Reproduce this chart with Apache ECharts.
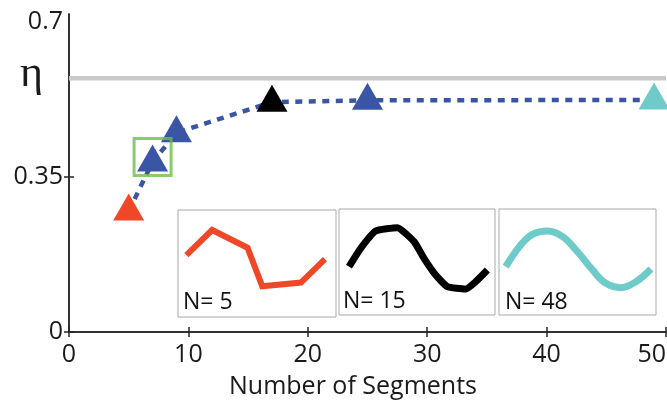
<!DOCTYPE html>
<html>
<head>
<meta charset="utf-8">
<script src="https://cdn.jsdelivr.net/npm/echarts@6/dist/echarts.min.js"></script>
<style>
html,body{margin:0;padding:0;background:#fff;}
#chart{width:667px;height:401px;}
</style>
</head>
<body>
<div id="chart"></div>
<script>
// ---- data ----
const segments = [5, 7, 9, 17, 25, 49];
const eta = [0.273, 0.384, 0.45, 0.519, 0.523, 0.524];
const markerColors = ['#ef4829', '#3a55a4', '#3a55a4', '#000000', '#3a55a4', '#6ecbc9'];
const refLevel = 0.573;
const highlightIndex = 1;
const xTicks = [0, 10, 20, 30, 40, 50];
const yTicks = [0, 0.35, 0.7];
const insetLabels = ['N= 5', 'N= 15', 'N= 48'];
const insetColors = ['#ef4829', '#000000', '#6ecbc9'];
// inset curves (local 0-100 coordinates)
const curve5x = [5.3, 21.6, 44.0, 53.3, 77.8, 93.0];
const curve5y = [57.8, 81.3, 64.7, 28.8, 32.2, 54.1];
const curve15x = [6.4, 13.9, 23.5, 37.4, 48.1, 54.5, 62.0, 69.5, 81.2, 87.6, 95.1];
const curve15y = [45.6, 62.9, 79.2, 82.4, 69.2, 53.5, 37.7, 26.7, 24.5, 31.4, 42.5];
const curve48x = [4.3, 13.8, 21.3, 30.9, 40.5, 50.0, 59.6, 68.1, 77.7, 87.2, 96.8];
const curve48y = [45.6, 66.0, 76.1, 79.2, 73.9, 59.7, 42.5, 29.9, 25.8, 31.4, 43.4];

const FONT = 'Open Sans';
const chart = echarts.init(document.getElementById('chart'), null, {renderer: 'canvas'});

const zip = (a, b) => a.map((v, i) => [v, b[i]]);
const insetBoxes = [
  {left: 178, top: 210, width: 158, height: 107},
  {left: 339, top: 209, width: 156, height: 106},
  {left: 499, top: 209, width: 157, height: 106}
];
const insetCurves = [zip(curve5x, curve5y), zip(curve15x, curve15y), zip(curve48x, curve48y)];
const insetTextPos = [[183, 302], [343, 301], [505, 302]];

const axisLineStyle = {color: '#262626', width: 1.5};
const yMax = 0.718;
const yTickValues = [0, 0.35];

const option = {
  animation: false,
  backgroundColor: '#fff',
  grid: [
    {left: 69, top: 14, width: 597, height: 318, show: false, outerBoundsMode: 'none', containLabel: false}
  ].concat(insetBoxes.map(b => ({left: b.left, top: b.top, width: b.width, height: b.height,
      outerBoundsMode: 'none', containLabel: false,
      show: true, borderColor: '#a9a9a9', borderWidth: 1, backgroundColor: '#fff', z: 1}))),
  xAxis: [
    {gridIndex: 0, type: 'value', min: 0, max: 50, interval: 10, position: 'bottom',
     axisLine: {show: true, lineStyle: axisLineStyle},
     axisTick: {show: true, inside: true, length: 5, lineStyle: axisLineStyle},
     splitLine: {show: false},
     axisLabel: {fontFamily: FONT, fontSize: 25, color: '#1a1a1a', margin: 10, alignMaxLabel: 'right',
       formatter: v => xTicks.indexOf(v) >= 0 ? String(v) : ''},
     name: 'Number of Segments', nameLocation: 'middle', nameGap: 42,
     nameTextStyle: {fontFamily: FONT, fontSize: 25, color: '#1a1a1a', padding: [0, 29, 0, 0]}},
    {gridIndex: 0, type: 'value', min: 0, max: 50, interval: 10, position: 'top',
     axisLine: {show: true, lineStyle: axisLineStyle},
     axisTick: {show: true, inside: true, length: 5, lineStyle: axisLineStyle},
     splitLine: {show: false}, axisLabel: {show: false}}
  ].concat(insetBoxes.map((b, i) => ({gridIndex: i + 1, type: 'value', min: 0, max: 100, show: false}))),
  yAxis: [
    {gridIndex: 0, type: 'value', min: 0, max: yMax, interval: 0.35, position: 'left',
     axisLine: {show: true, lineStyle: axisLineStyle},
     axisTick: {show: true, inside: true, length: 5, lineStyle: axisLineStyle, customValues: yTickValues},
     splitLine: {show: false},
     axisLabel: {fontFamily: FONT, fontSize: 25, color: '#1a1a1a', margin: 6, padding: [6, 0, 0, 0],
       formatter: v => yTicks.some(t => Math.abs(t - v) < 1e-9) ? String(v) : ''}},
    {gridIndex: 0, type: 'value', min: 0, max: yMax, interval: 0.35, position: 'right',
     axisLine: {show: true, lineStyle: axisLineStyle},
     axisTick: {show: true, inside: true, length: 5, lineStyle: axisLineStyle, customValues: yTickValues},
     splitLine: {show: false}, axisLabel: {show: false}}
  ].concat(insetBoxes.map((b, i) => ({gridIndex: i + 1, type: 'value', min: 0, max: 100, show: false}))),
  series: [
    {type: 'line', xAxisIndex: 0, yAxisIndex: 0, z: 2,
     data: [[0, refLevel], [50, refLevel]], symbol: 'none',
     lineStyle: {color: '#c8c8c8', width: 4.5}, silent: true},
    {type: 'line', xAxisIndex: 0, yAxisIndex: 0, z: 3,
     data: segments.map((s, i) => ({value: [s, eta[i]], itemStyle: {color: markerColors[i]}})),
     symbol: 'triangle', symbolSize: [31, 27], symbolOffset: [0, -4], showAllSymbol: true,
     lineStyle: {color: '#3a55a4', width: 4.5, type: [7, 6.5]},
     itemStyle: {borderWidth: 0}},
    {type: 'scatter', xAxisIndex: 0, yAxisIndex: 0, z: 4,
     data: [[segments[highlightIndex], eta[highlightIndex]]],
     symbol: 'rect', symbolSize: 37, symbolOffset: [0, -5],
     itemStyle: {color: 'rgba(0,0,0,0)', borderColor: '#6dbe45', borderWidth: 3}}
  ].concat(insetCurves.map((c, i) => ({
    type: 'line', xAxisIndex: i + 2, yAxisIndex: i + 2, z: 3,
    data: c, symbol: 'none', smooth: i === 2 ? 0.4 : (i === 1 ? 0.15 : false),
    lineStyle: {color: insetColors[i], width: i === 0 ? 6 : 7, cap: 'butt', join: i === 0 ? 'miter' : 'round'}
  }))),
  graphic: [
    {type: 'text', left: 20, top: 52, z: 10,
     style: {text: 'η', font: '44px "Liberation Serif"', fill: '#1a1a1a'}}
  ].concat(insetLabels.map((t, i) => ({
    type: 'text', z: 10, x: insetTextPos[i][0], y: insetTextPos[i][1],
    style: {text: t, font: '23px "Open Sans"', fill: '#111', verticalAlign: 'middle'}
  })))
};
chart.setOption(option);
</script>
</body>
</html>
